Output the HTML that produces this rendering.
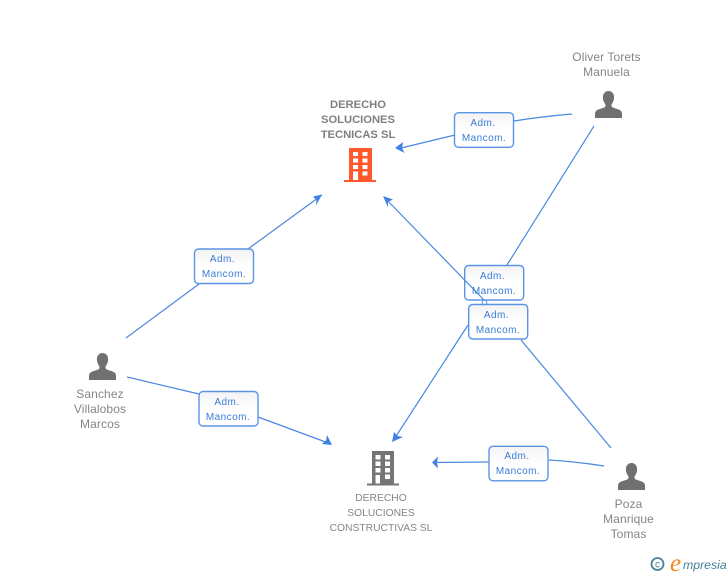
<!DOCTYPE html>
<html><head><meta charset="utf-8"><style>
html,body{margin:0;padding:0;background:#fff}
svg{display:block}
text{font-family:"Liberation Sans",sans-serif}
.n{font-size:12px;fill:#858585;text-anchor:middle;letter-spacing:.1px}
.c{font-size:10.3px;fill:#858585;text-anchor:middle}
.b{font-size:11.2px;font-weight:bold;fill:#7f7f7f;text-anchor:middle}
.l{font-size:10px;fill:#3a7bd5;text-anchor:middle;letter-spacing:.45px}
.e{fill:none;stroke:#4a88e0;stroke-width:1.2}
.a{fill:#3f80e0}
.r{fill:url(#g);stroke:#5b94e6;stroke-width:1.4}
</style></head><body>
<svg width="728" height="575" viewBox="0 0 728 575" xmlns="http://www.w3.org/2000/svg">
<defs>
<linearGradient id="g" x1="0" y1="0" x2="0" y2="1"><stop offset="0" stop-color="#f3f3f3"/><stop offset=".5" stop-color="#fff"/></linearGradient>
<path id="p" d="M13.500 0c3.600 0 5.600 2.800 5.600 6.300 0 2.600-.8 4.600-2.200 6.600-.7 1-.6 2.600.3 3.200 2 1.300 7.600 2 9.300 4.400.6.900.5 4.500.5 6.500H0c0-2-.1-5.600.5-6.500 1.700-2.400 7.300-3.100 9.300-4.400.9-.6 1-2.200.3-3.200-1.400-2-2.200-4-2.200-6.600C7.900 2.800 9.900 0 13.500 0z"/>
</defs>

<path class="e" d="M572 114Q542 116.500 514 121M455 135L397 149"/>
<path class="e" d="M594 126L507 265M468 325L393 441"/>
<path class="e" d="M611 448L521 340"/>
<path class="e" d="M604 466Q575 461.500 549 460M489 462L434 462.500"/>
<path class="e" d="M126 338L199 284M248 249L322 195"/>
<path class="e" d="M127 377L199 394M258 417L331 444"/>

<polygon class="a" points="395,148 403,142 402,148 404.500,153"/>
<polygon class="a" points="322,194.500 313,196.500 316.500,200 316,205.500"/>
<polygon class="a" points="332,445 322,444 326,440.500 327,435"/>
<polygon class="a" points="392,442 394,432 397.500,436 403,437"/>
<polygon class="a" points="432,462.500 438,456.500 437,462.500 438,468.500"/>
<polygon class="a" points="383,196 393,199.500 388,202 388,207.500"/>

<rect class="r" x="454.500" y="112.700" width="59" height="34.600" rx="4"/>
<text class="l" x="483" y="126">Adm.</text><text class="l" x="484" y="141">Mancom.</text>
<rect class="r" x="194.500" y="249" width="59" height="34.500" rx="4"/>
<text class="l" x="222.500" y="262">Adm.</text><text class="l" x="224" y="277">Mancom.</text>
<rect class="r" x="199" y="391.500" width="59" height="34.500" rx="4"/>
<text class="l" x="227" y="405">Adm.</text><text class="l" x="228" y="420">Mancom.</text>
<rect class="r" x="489" y="446.300" width="59" height="34.500" rx="4"/>
<text class="l" x="517" y="459">Adm.</text><text class="l" x="518" y="474">Mancom.</text>
<rect class="r" x="464.700" y="265.500" width="59" height="34.500" rx="4"/>
<text class="l" x="492.500" y="279">Adm.</text><text class="l" x="494" y="294">Mancom.</text>
<path class="e" d="M385 198L484 300"/>
<circle cx="484.500" cy="302.500" r="2.300" fill="#fff" stroke="#5b94e6"/>
<rect class="r" x="468.700" y="304.500" width="59" height="34.500" rx="4"/>
<text class="l" x="496.500" y="318">Adm.</text><text class="l" x="498" y="333">Mancom.</text>

<text class="b"><tspan x="358" y="108">DERECHO</tspan><tspan x="358" y="123">SOLUCIONES</tspan><tspan x="358" y="138">TECNICAS SL</tspan></text>
<path fill="#ff5a2d" fill-rule="evenodd" d="M349 148h23v32h4v2h-32v-2h5zM353 152v4h5v-4zM362.500 152v4h5v-4zM353 158.500v4h5v-4zM362.500 158.500v4h5v-4zM353 165v4h5v-4zM362.500 165v4h5v-4zM353 171.500v8.500h5v-8.500zM362.500 171.500v4h5v-4z"/>
<path fill="#757575" fill-rule="evenodd" d="M372 451h22v32.500h5v2h-32v-2h5zM375.500 455v4.500h5v-4.500zM385 455v4.500h5v-4.500zM375.500 461.500v4.500h5v-4.500zM385 461.500v4.500h5v-4.500zM375.500 468v4.500h5v-4.500zM385 468v4.500h5v-4.500zM375.500 475v8.500h4.500v-8.500zM385 474.500v4.500h5v-4.500z"/>
<text class="c"><tspan x="381" y="501">DERECHO</tspan><tspan x="381" y="516">SOLUCIONES</tspan><tspan x="381" y="531">CONSTRUCTIVAS SL</tspan></text>

<use href="#p" x="595" y="91" fill="#707070"/>
<text class="n"><tspan x="606.500" y="61">Oliver Torets</tspan><tspan x="606.500" y="76">Manuela</tspan></text>
<use href="#p" x="89" y="353" fill="#707070"/>
<text class="n"><tspan x="100" y="398">Sanchez</tspan><tspan x="100" y="413">Villalobos</tspan><tspan x="100" y="428">Marcos</tspan></text>
<use href="#p" x="618" y="463" fill="#707070"/>
<text class="n"><tspan x="628.500" y="508">Poza</tspan><tspan x="628.500" y="523">Manrique</tspan><tspan x="628.500" y="538">Tomas</tspan></text>

<circle cx="657.500" cy="564" r="6" fill="none" stroke="#4a8296" stroke-width="1.800"/>
<text x="657.500" y="567.500" font-size="10" fill="#4a8296" text-anchor="middle">c</text>
<text x="670" y="571" font-size="25" font-style="italic" fill="#f08a1d" style="font-family:'Liberation Serif',serif">e</text>
<text x="683" y="569" font-size="12.300" font-style="italic" fill="#3f7f96">mpresia</text>
</svg>
</body></html>
